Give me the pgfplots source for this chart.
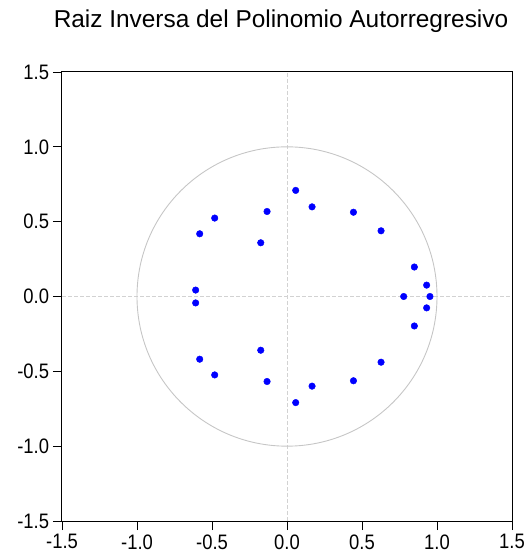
\documentclass[border=0pt]{standalone}
\usepackage{fontspec}
\setmainfont{Liberation Sans}
\usepackage{pgfplots}
\pgfplotsset{compat=1.18}
\begin{document}
\begin{tikzpicture}
\useasboundingbox (0bp,0bp) rectangle (528bp,559bp);
\begin{axis}[
  at={(62bp,38bp)}, anchor=south west,
  scale only axis, width=450bp, height=449bp,
  xmin=-1.5, xmax=1.5, ymin=-1.5, ymax=1.5,
  xtick={-1.5,-1,-0.5,0,0.5,1,1.5},
  ytick={-1.5,-1,-0.5,0,0.5,1,1.5},
  xtick pos=bottom, ytick pos=left, tick align=outside,
  major tick length=9bp,
  tick style={black, line width=0.8bp},
  /pgf/number format/.cd, fixed, fixed zerofill, precision=1, assume math mode=true,
  /pgfplots/.cd,
  ticklabel style={font=\fontsize{21}{25}\selectfont, xscale=0.88},
  xticklabel style={yshift=-1bp},
  yticklabel style={xshift=-1bp},
  axis line style={black, line width=1bp},
  title={Raiz Inversa del Polinomio Autorregresivo},
  title style={font=\fontsize{24.5}{29}\selectfont, at={(0.5,1)}, anchor=base, yshift=39bp, xshift=-6bp},
  clip=false,
]
\draw[gray!35, line width=0.8bp, dash pattern=on 4bp off 2bp] (axis cs:-1.5,0) -- (axis cs:1.5,0);
\draw[gray!35, line width=0.8bp, dash pattern=on 4bp off 2bp] (axis cs:0,-1.5) -- (axis cs:0,1.5);
\draw[gray!45, line width=0.9bp] (axis cs:0,0) circle [radius=1];
\addplot[only marks, mark=*, mark size=3.3bp, blue, mark options={draw=blue, fill=blue}] coordinates {
  (0.058,0.709) (0.058,-0.709)
  (0.167,0.599) (0.167,-0.599)
  (0.443,0.563) (0.443,-0.563)
  (0.627,0.439) (0.627,-0.439)
  (0.849,0.197) (0.849,-0.197)
  (0.931,0.076) (0.931,-0.076)
  (0.778,0) (0.953,0)
  (-0.133,0.568) (-0.133,-0.568)
  (-0.175,0.359) (-0.175,-0.359)
  (-0.482,0.524) (-0.482,-0.524)
  (-0.582,0.419) (-0.582,-0.419)
  (-0.609,0.043) (-0.609,-0.043)
};
\end{axis}
\end{tikzpicture}
\end{document}
